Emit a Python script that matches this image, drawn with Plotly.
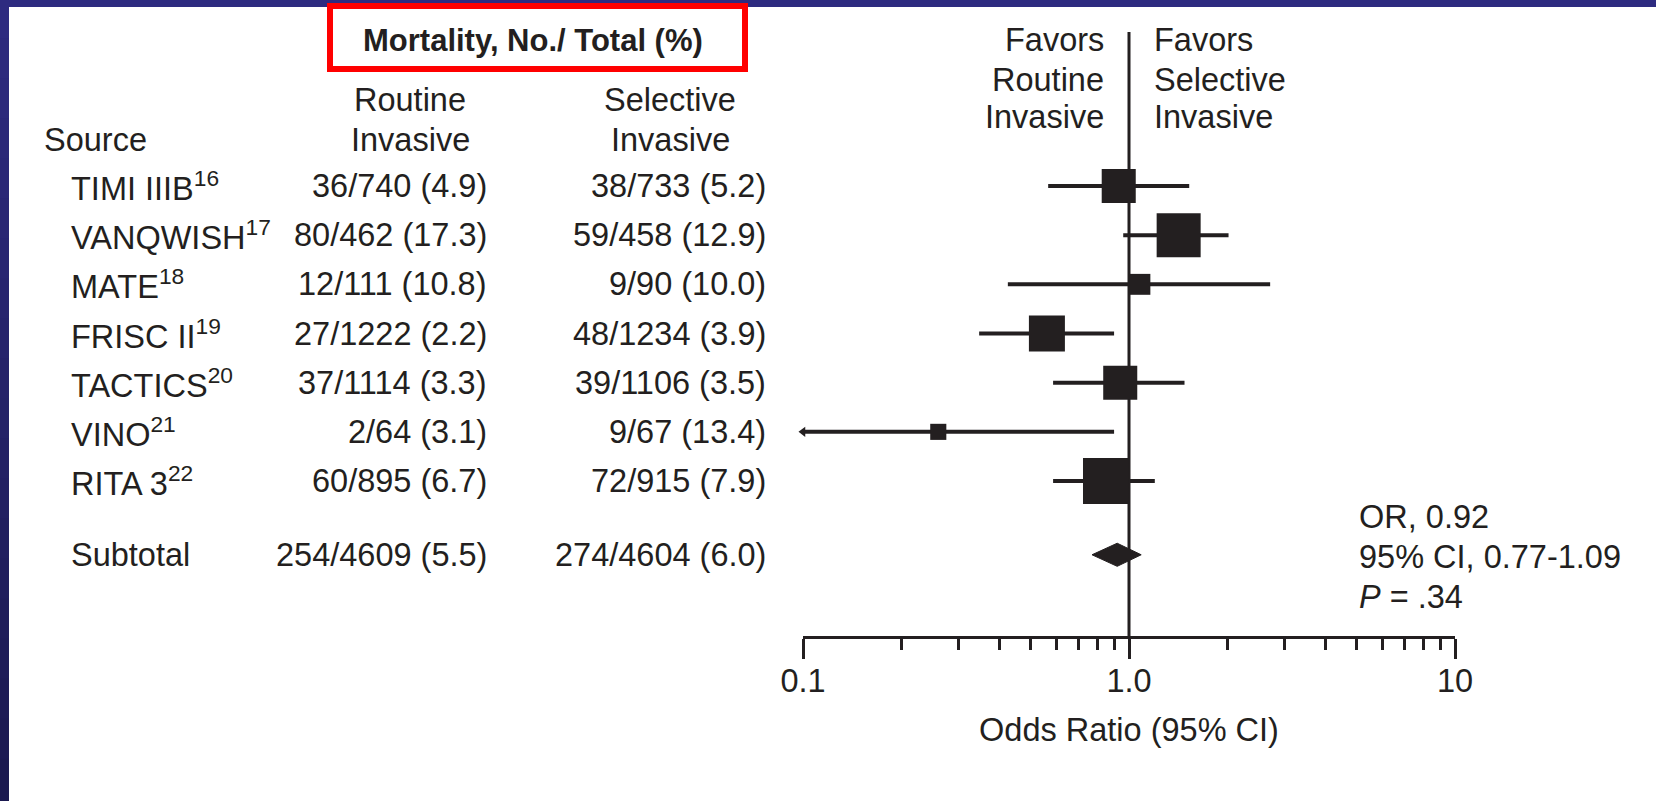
import plotly.graph_objects as go

# ---------------- data ----------------
studies = ["TIMI IIIB", "VANQWISH", "MATE", "FRISC II", "TACTICS", "VINO", "RITA 3"]
refs = ["16", "17", "18", "19", "20", "21", "22"]
routine_txt = ["36/740 (4.9)", "80/462 (17.3)", "12/111 (10.8)", "27/1222 (2.2)",
               "37/1114 (3.3)", "2/64 (3.1)", "60/895 (6.7)"]
selective_txt = ["38/733 (5.2)", "59/458 (12.9)", "9/90 (10.0)", "48/1234 (3.9)",
                 "39/1106 (3.5)", "9/67 (13.4)", "72/915 (7.9)"]
odds_ratio = [0.93, 1.42, 1.08, 0.56, 0.94, 0.26, 0.85]
ci_low = [0.565, 0.96, 0.425, 0.347, 0.585, 0.05, 0.585]
ci_high = [1.53, 2.02, 2.71, 0.90, 1.48, 0.90, 1.20]
weight_pct = [14.3, 23.9, 5.4, 16.0, 14.3, 3.2, 26.1]

subtotal_label = "Subtotal"
subtotal_routine = "254/4609 (5.5)"
subtotal_selective = "274/4604 (6.0)"
subtotal_or = 0.92
subtotal_low = 0.77
subtotal_high = 1.09

x_tickvals = [0.1, 1, 10]
x_ticktext = ["0.1", "1.0", "10"]
x_minor = [0.2, 0.3, 0.4, 0.5, 0.6, 0.7, 0.8, 0.9, 2, 3, 4, 5, 6, 7, 8, 9]

# ---------------- layout helpers ----------------
W, H = 1656, 801
INK = "#231f20"
FONT = "Liberation Sans, Arial, sans-serif"
FS = 32.5

rows = list(range(len(studies)))
sub_row = len(studies) + 0.5
row_px0, row_step = 186, 49.17
y_top = -row_px0 / row_step
y_bot = (H - row_px0) / row_step

axis_y_px = 637

def px(x):
    return x / W

def py(y):
    return 1 - y / H

fig = go.Figure()

# CI lines
xs, ys = [], []
arrow_y = []
for r, lo, hi in zip(rows, ci_low, ci_high):
    lo_c = max(lo, x_tickvals[0])
    if lo < x_tickvals[0]:
        arrow_y.append(r)
    xs += [lo_c, hi, None]
    ys += [r, r, None]
fig.add_trace(go.Scatter(x=xs, y=ys, mode="lines",
                         line=dict(color=INK, width=4), hoverinfo="skip",
                         showlegend=False))

# arrows for truncated CIs
if arrow_y:
    fig.add_trace(go.Scatter(x=[x_tickvals[0]] * len(arrow_y), y=arrow_y,
                             mode="markers",
                             marker=dict(symbol="triangle-left", size=9, color=INK,
                                         opacity=1),
                             cliponaxis=False, hoverinfo="skip", showlegend=False))

# study boxes
sizes = [9.0 * w ** 0.5 for w in weight_pct]
fig.add_trace(go.Scatter(x=odds_ratio, y=rows, mode="markers",
                         marker=dict(symbol="square", size=sizes, color=INK,
                                     opacity=1, line=dict(width=0)),
                         cliponaxis=False, hoverinfo="skip", showlegend=False))

# subtotal diamond
dh = 0.235
fig.add_trace(go.Scatter(
    x=[subtotal_low, subtotal_or, subtotal_high, subtotal_or, subtotal_low],
    y=[sub_row, sub_row - dh, sub_row, sub_row + dh, sub_row],
    mode="lines", fill="toself", fillcolor=INK,
    line=dict(color=INK, width=1), hoverinfo="skip", showlegend=False))

shapes = []
# blue frame (top band + left band with a slight vertical gradient)
shapes.append(dict(type="rect", xref="paper", yref="paper", x0=0, x1=1,
                   y0=py(7), y1=1, fillcolor="#2e2b80", line=dict(width=0),
                   layer="above"))
nseg = 20
c0 = (0x2e, 0x2b, 0x80)
c1 = (0x1b, 0x19, 0x50)
for i in range(nseg):
    t = i / (nseg - 1)
    col = "rgb(%d,%d,%d)" % tuple(round(a + (b - a) * t) for a, b in zip(c0, c1))
    shapes.append(dict(type="rect", xref="paper", yref="paper", x0=0, x1=px(9),
                       y0=max(0, py(H * (i + 1) / nseg + 2)), y1=min(1, py(H * i / nseg - 2)),
                       fillcolor=col, line=dict(width=0), layer="above"))
# red box around header
shapes.append(dict(type="rect", xref="paper", yref="paper",
                   x0=px(330), x1=px(745), y0=py(69), y1=py(6),
                   line=dict(color="#ff0000", width=6), fillcolor="rgba(0,0,0,0)",
                   layer="above"))
# vertical line of no effect
shapes.append(dict(type="line", xref="x", yref="paper", x0=1, x1=1,
                   y0=py(axis_y_px), y1=py(32),
                   line=dict(color=INK, width=3), layer="below"))

ann = []

def text(s, x, y, align="center", yref="paper", size=FS):
    ann.append(dict(text=s, x=px(x), y=(py(y) if yref == "paper" else y),
                    xref="paper", yref=yref, xanchor=align, yanchor="middle",
                    showarrow=False, font=dict(family=FONT, size=size, color=INK)))

text("<b>Mortality, No./ Total (%)</b>", 533, 40, size=31)
text("Routine", 410, 100)
text("Invasive", 410, 140)
text("Selective", 670, 100)
text("Invasive", 670, 140)
text("Source", 42, 140, align="left")

for r, name, ref, a, b in zip(rows, studies, refs, routine_txt, selective_txt):
    text(f"{name}<sup>{ref}</sup>", 69, r, align="left", yref="y")
    text(a, 489, r, align="right", yref="y")
    text(b, 768, r, align="right", yref="y")
text(subtotal_label, 69, sub_row, align="left", yref="y")
text(subtotal_routine, 489, sub_row, align="right", yref="y")
text(subtotal_selective, 768, sub_row, align="right", yref="y")

for s, y in zip(["Favors", "Routine", "Invasive"], [40, 80, 117]):
    text(s, 1106, y, align="right")
for s, y in zip(["Favors", "Selective", "Invasive"], [40, 80, 117]):
    text(s, 1152, y, align="left")

text(f"OR, {subtotal_or:.2f}", 1357, 517, align="left")
text(f"95% CI, {subtotal_low:.2f}-{subtotal_high:.2f}", 1357, 557, align="left")
text("<i>P</i> = .34", 1357, 597, align="left")

fig.update_layout(
    width=W, height=H,
    margin=dict(l=0, r=0, t=0, b=0),
    paper_bgcolor="white", plot_bgcolor="rgba(0,0,0,0)",
    shapes=shapes, annotations=ann,
    font=dict(family=FONT, size=FS, color=INK),
    xaxis=dict(
        type="log", range=[-1, 1], domain=[px(803), px(1455)],
        anchor="free", position=py(axis_y_px),
        showline=True, linecolor=INK, linewidth=3,
        ticks="outside", ticklen=20, tickwidth=3, tickcolor=INK,
        tickmode="array", tickvals=x_tickvals, ticktext=x_ticktext,
        tickfont=dict(family=FONT, size=FS, color=INK),
        ticklabelstandoff=-6,
        minor=dict(ticks="outside", ticklen=11, tickwidth=3, tickcolor=INK,
                   tickmode="array", tickvals=x_minor, showgrid=False),
        showgrid=False, zeroline=False, automargin=False, fixedrange=True,
        title=dict(text="Odds Ratio (95% CI)", standoff=20,
                   font=dict(family=FONT, size=FS, color=INK)),
    ),
    yaxis=dict(visible=False, range=[y_bot, y_top], domain=[0, 1],
               fixedrange=True),
)

fig.write_html("out.html",
               config={"displayModeBar": False, "staticPlot": True},
               post_script="document.body.style.margin='0';document.body.style.overflow='hidden';")
